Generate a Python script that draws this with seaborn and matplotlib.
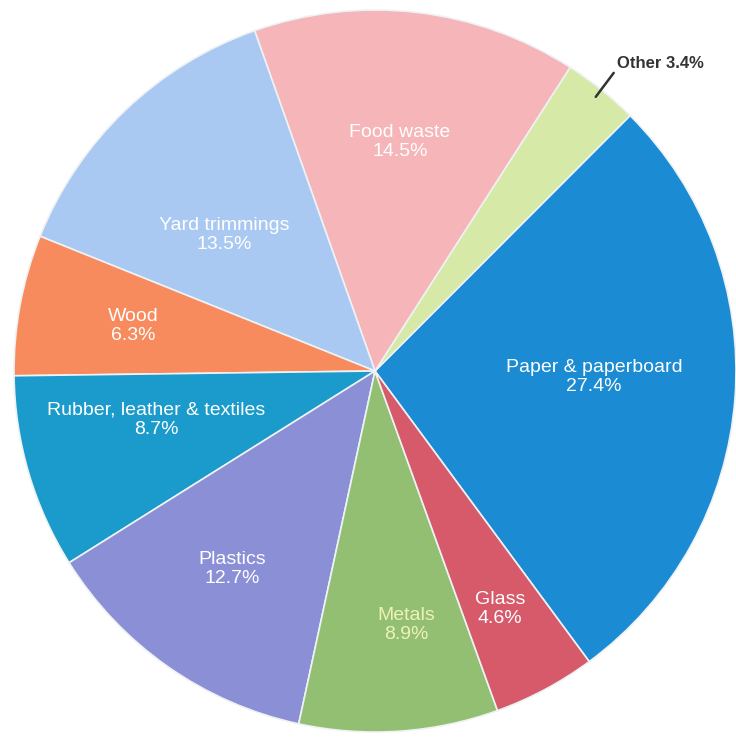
import numpy as np
import matplotlib
matplotlib.use("Agg")
import matplotlib.pyplot as plt
import seaborn as sns

categories = ["Paper & paperboard", "Other", "Food waste", "Yard trimmings", "Wood",
              "Rubber, leather & textiles", "Plastics", "Metals", "Glass"]
shares = [27.4, 3.4, 14.5, 13.5, 6.3, 8.7, 12.7, 8.9, 4.6]
labels = ["Paper & paperboard\n27.4%", "Other 3.4%", "Food waste\n14.5%",
          "Yard trimmings\n13.5%", "Wood\n6.3%", "Rubber, leather & textiles\n8.7%",
          "Plastics\n12.7%", "Metals\n8.9%", "Glass\n4.6%"]
colors = ["#1b8bd3", "#d6e9a6", "#f5b5b9", "#a9c9f2", "#f78b5e",
          "#1a9bcb", "#8a8fd6", "#93bf72", "#d65a6a"]
label_colors = ["white", "#333333", "white", "white", "white", "white", "white", "#eef2b8", "white"]

sns.set_theme(style="white")
plt.rcParams['font.family'] = ['Liberation Sans', 'DejaVu Sans']

W, H = 736, 742
R = 361.0
cx, cy = 375.0, 371.0

# label anchor points in image pixels (layout only)
label_px = [(594, 377), (617, 64), (400, 142), (224, 235), (133, 326),
            (156, 420), (232, 569), (406, 625), (500, 609)]


def to_data(px, py):
    return (px - cx) / R, (cy - py) / R


fig = plt.figure(figsize=(W / 100, H / 100), dpi=100)
ax = fig.add_axes([0, 0, 1, 1])

wedges, _ = ax.pie(shares, colors=colors, startangle=-53.6, counterclock=True,
                   radius=1.0, wedgeprops=dict(edgecolor="#eef2f5", linewidth=1.2))

ax.set_xlim(-cx / R, (W - cx) / R)
ax.set_ylim(-(H - cy) / R, cy / R)
ax.set_aspect("equal")
ax.axis("off")

for w, lab, (px, py), c, name in zip(wedges, labels, label_px, label_colors, categories):
    tx, ty = to_data(px, py)
    if name == "Other":
        mid = np.deg2rad((w.theta1 + w.theta2) / 2)
        ax.annotate(lab, xy=(0.975 * np.cos(mid), 0.975 * np.sin(mid)), xytext=(tx, ty),
                    ha="left", va="center", fontsize=12, fontweight="bold", color=c,
                    arrowprops=dict(arrowstyle="-", color=c, lw=1.8,
                                    relpos=(0.0, 0.2), shrinkA=0, shrinkB=0))
        continue
    ax.text(tx, ty, lab, ha="center", va="center",
            fontsize=14, color=c, linespacing=1.2)

fig.savefig("out.png", dpi=100, facecolor="white")
